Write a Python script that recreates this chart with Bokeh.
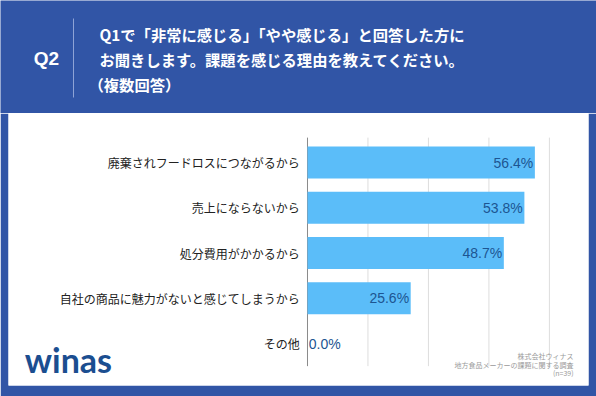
from bokeh.plotting import figure
from bokeh.layouts import column
from bokeh.models import Range1d
from bokeh.core.properties import value
from bokeh.embed import file_html
from bokeh.resources import INLINE

categories = ["廃棄されフードロスにつながるから", "売上にならないから", "処分費用がかかるから",
              "自社の商品に魅力がないと感じてしまうから", "その他"]
values = [56.4, 53.8, 48.7, 25.6, 0.0]
grid_ticks = [0, 15, 30, 45, 60]
question_no = "Q2"
title_lines = ["Q1で「非常に感じる」「やや感じる」と回答した方に",
               "お聞きします。課題を感じる理由を教えてください。",
               "（複数回答）"]
source_lines = ["株式会社ウィナス", "地方食品メーカーの課題に関する調査", "(n=39)"]
logo_text = "winas"

BLUE = "#3155a6"
BAR = "#5bbdf9"
VAL = "#1d5592"
JP = "Noto Sans CJK JP"

# ---- header ----
h = figure(width=596, height=113, x_range=Range1d(0, 596), y_range=Range1d(113, 0),
           output_backend="svg", toolbar_location=None, min_border=0)
h.frame_align = False
h.axis.visible = False
h.grid.visible = False
h.background_fill_color = BLUE
h.border_fill_color = BLUE
h.outline_line_color = None
h.text(x=[46], y=[58], text=[question_no], text_color="white", text_font=value("Liberation Sans"),
       text_font_style="bold", text_font_size="19px", text_align="center", text_baseline="middle")
h.segment(x0=[73], y0=[18], x1=[73], y1=[97], line_color="#8ea3d6", line_width=1)
h.text(x=[99, 99, 88], y=[33, 58, 83], text=title_lines, text_color="white", text_font=value(JP),
       text_font_style="bold", text_font_size="15.3px", text_align="left", text_baseline="middle")

# ---- chart ----
n = len(categories)
ypos = list(range(n))
p = figure(width=596, height=283, x_range=Range1d(-74.16, 69.70), y_range=Range1d(4.928, -1.083),
           output_backend="svg", toolbar_location=None,
           min_border_left=8, min_border_right=8, min_border_top=0, min_border_bottom=11)
p.frame_align = False
p.axis.visible = False
p.grid.visible = False
p.outline_line_color = None
p.background_fill_color = "white"
p.border_fill_color = BLUE

# grid lines and axis line
p.segment(x0=grid_ticks[1:], y0=[-0.55] * (len(grid_ticks) - 1), x1=grid_ticks[1:],
          y1=[n - 0.5] * (len(grid_ticks) - 1), line_color="#dddddd", line_width=1)
p.segment(x0=[0], y0=[-0.55], x1=[0], y1=[n - 0.5], line_color="#8a8a8a", line_width=1)

p.hbar(y=ypos, right=values, left=0, height=0.707, fill_color=BAR, line_color=None)

# category labels
p.text(x=[-1.9] * n, y=ypos, text=categories, text_color="#222222", text_font=value(JP),
       text_font_size="12px", text_align="right", text_baseline="middle")

pos_y = [i for i, v in zip(ypos, values) if v > 0]
pos_v = [v for v in values if v > 0]
p.text(x=[v - 0.4 for v in pos_v], y=pos_y, text=[f"{v:.1f}%" for v in pos_v],
       text_color=VAL, text_font=value("Liberation Sans"), text_font_size="14px",
       text_align="right", text_baseline="middle")
zero_y = [i for i, v in zip(ypos, values) if v == 0]
zero_v = [v for v in values if v == 0]
p.text(x=[v + 0.3 for v in zero_v], y=zero_y, text=[f"{v:.1f}%" for v in zero_v],
       text_color=VAL, text_font=value("Liberation Sans"), text_font_size="14px",
       text_align="left", text_baseline="middle")

p.text(x=[66.0] * 3, y=[4.287, 4.486, 4.641], text=source_lines, text_font=value(JP),
       text_font_size="7px", text_color="#9a9a9a", text_align="right", text_baseline="middle")

p.text(x=[-59.3], y=[4.354], text=[logo_text], text_font=value("Lato"), text_font_style="bold",
       text_font_size="34px", text_color="#1b4e90", text_align="center", text_baseline="middle")

layout = column(h, p, spacing=0)
open("out.html", "w").write(file_html(layout, INLINE))
